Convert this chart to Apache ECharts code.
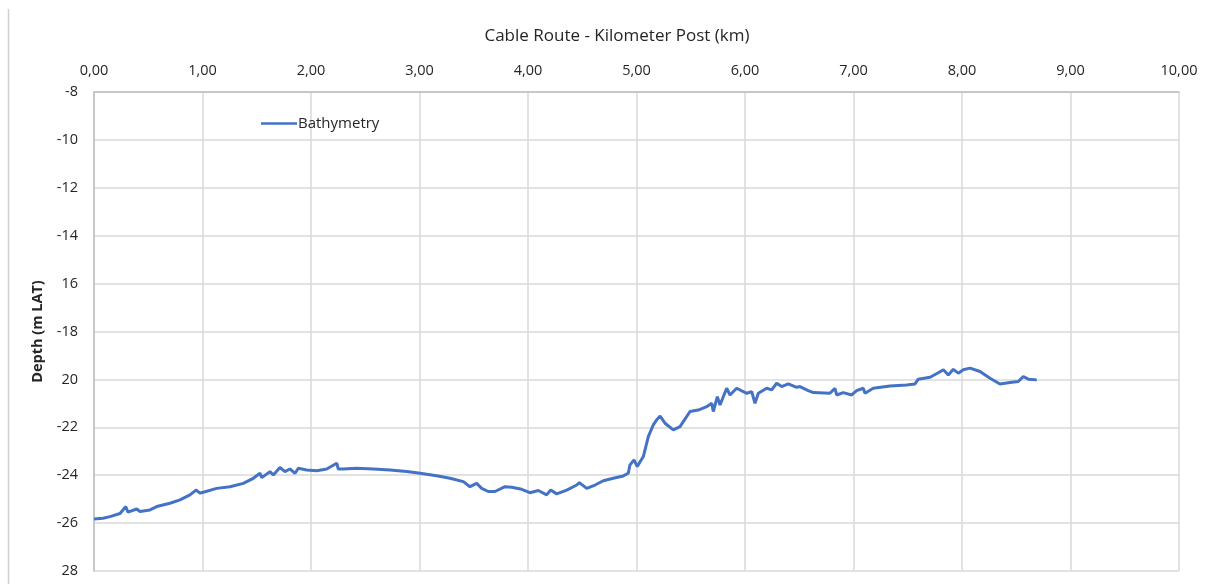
<!DOCTYPE html>
<html>
<head>
<meta charset="utf-8">
<script src="https://cdn.jsdelivr.net/npm/echarts@6/dist/echarts.min.js"></script>
<style>
  html, body { margin: 0; padding: 0; background: #fff; }
  #chart { width: 1213px; height: 584px; }
</style>
</head>
<body>
<div id="chart"></div>
<script>
// Kilometer post along the cable route (km)
const kp = [
  0.000, 0.083, 0.147, 0.240, 0.292, 0.313, 0.394, 0.424, 0.516, 0.578,
  0.700, 0.793, 0.885, 0.940, 0.977, 1.007, 1.131, 1.253, 1.376, 1.468,
  1.530, 1.546, 1.622, 1.653, 1.714, 1.760, 1.806, 1.853, 1.883, 1.960,
  2.053, 2.145, 2.237, 2.252, 2.298, 2.421, 2.574, 2.728, 2.882, 3.005,
  3.158, 3.281, 3.404, 3.465, 3.527, 3.573, 3.634, 3.696, 3.788, 3.850,
  3.942, 4.018, 4.095, 4.172, 4.209, 4.264, 4.357, 4.449, 4.473, 4.541,
  4.618, 4.694, 4.786, 4.878, 4.924, 4.940, 4.977, 5.007, 5.063, 5.109,
  5.155, 5.186, 5.217, 5.263, 5.339, 5.401, 5.493, 5.569, 5.647, 5.693,
  5.708, 5.745, 5.770, 5.831, 5.862, 5.923, 6.016, 6.062, 6.092, 6.123,
  6.200, 6.246, 6.292, 6.338, 6.399, 6.415, 6.476, 6.507, 6.583, 6.630,
  6.783, 6.829, 6.845, 6.906, 6.983, 7.029, 7.090, 7.106, 7.182, 7.336,
  7.490, 7.567, 7.597, 7.705, 7.782, 7.828, 7.874, 7.920, 7.966, 8.012,
  8.074, 8.166, 8.258, 8.350, 8.442, 8.519, 8.565, 8.611, 8.689
];

// Seabed depth (m LAT)
const depth = [
  -25.83, -25.80, -25.73, -25.60, -25.31, -25.54, -25.41, -25.52, -25.45, -25.31,
  -25.17, -25.03, -24.82, -24.62, -24.75, -24.71, -24.55, -24.48, -24.34, -24.13,
  -23.92, -24.10, -23.85, -23.99, -23.68, -23.85, -23.74, -23.92, -23.71, -23.78,
  -23.81, -23.74, -23.50, -23.74, -23.74, -23.71, -23.74, -23.78, -23.85, -23.92,
  -24.02, -24.13, -24.27, -24.48, -24.34, -24.55, -24.68, -24.68, -24.48, -24.50,
  -24.59, -24.73, -24.64, -24.82, -24.62, -24.78, -24.62, -24.41, -24.31, -24.55,
  -24.41, -24.23, -24.13, -24.03, -23.92, -23.57, -23.36, -23.64, -23.22, -22.39,
  -21.90, -21.69, -21.53, -21.83, -22.11, -21.97, -21.34, -21.28, -21.14, -21.00,
  -21.34, -20.72, -21.07, -20.37, -20.65, -20.37, -20.58, -20.51, -21.00, -20.58,
  -20.37, -20.44, -20.16, -20.30, -20.19, -20.23, -20.33, -20.30, -20.47, -20.55,
  -20.58, -20.37, -20.65, -20.55, -20.65, -20.47, -20.37, -20.58, -20.37, -20.28,
  -20.23, -20.19, -19.99, -19.91, -19.72, -19.60, -19.82, -19.58, -19.74, -19.60,
  -19.53, -19.67, -19.95, -20.19, -20.13, -20.09, -19.88, -19.99, -20.02
];

// Depth axis tick values and the text printed beside them
const depthTicks = [-8, -10, -12, -14, -16, -18, -20, -22, -24, -26, -28];
const depthTickLabels = ['-8', '-10', '-12', '-14', '16', '-18', '20', '-22', '-24', '-26', '28'];

const seriesName = 'Bathymetry';
const xAxisTitle = 'Cable Route - Kilometer Post (km)';
const yAxisTitle = 'Depth (m LAT)';

const FONT = '"Open Sans", "Noto Sans", sans-serif';
const points = kp.map((k, i) => [k, depth[i]]);

const chart = echarts.init(document.getElementById('chart'), null, { renderer: 'canvas' });
chart.setOption({
  backgroundColor: '#ffffff',
  animation: false,
  textStyle: { fontFamily: FONT },
  title: {
    text: xAxisTitle,
    left: 612, top: 23, textAlign: 'center',
    textStyle: { fontFamily: FONT, fontSize: 17, fontWeight: 'normal', color: '#262626' }
  },
  legend: {
    left: 256, top: 111,
    itemWidth: 36, itemHeight: 16, itemGap: 10,
    data: [{ name: seriesName, icon: 'path://M0,0 L36,0 L36,2.5 L0,2.5 Z' }],
    textStyle: { fontFamily: FONT, fontSize: 15, color: '#262626', padding: [0, 0, 0, -4] }
  },
  grid: { left: 94, right: 34, top: 92, bottom: 13, containLabel: false },
  xAxis: {
    type: 'value', position: 'top',
    min: 0, max: 10, interval: 1,
    axisLine: { show: true, lineStyle: { color: '#bfbfbf', width: 1.5 } },
    axisTick: { show: false },
    axisLabel: {
      margin: 14, fontFamily: FONT, fontSize: 14.5, color: '#262626',
      formatter: v => v.toFixed(2).replace('.', ',')
    },
    splitLine: { show: true, lineStyle: { color: '#d9d9d9', width: 1.5 } }
  },
  yAxis: {
    type: 'value',
    min: -28, max: -8, interval: 2,
    name: yAxisTitle, nameLocation: 'middle', nameGap: 44, nameRotate: 90,
    nameTextStyle: { fontFamily: FONT, fontSize: 14.5, fontWeight: 'bold', color: '#262626' },
    axisLine: { show: true, onZero: false, lineStyle: { color: '#bfbfbf', width: 1.5 } },
    axisTick: { show: false },
    axisLabel: {
      margin: 16, fontFamily: FONT, fontSize: 14.5, color: '#262626',
      formatter: v => {
        const i = depthTicks.indexOf(v);
        return i >= 0 ? depthTickLabels[i] : String(v);
      }
    },
    splitLine: { show: true, lineStyle: { color: '#d9d9d9', width: 1.5 } }
  },
  graphic: [{
    type: 'line', silent: true,
    shape: { x1: 8.5, y1: 9, x2: 8.5, y2: 584 },
    style: { stroke: '#d0d0d0', lineWidth: 1.5 }
  }],
  series: [{
    name: seriesName,
    type: 'line',
    data: points,
    showSymbol: false,
    symbol: 'none',
    lineStyle: { color: '#4472c4', width: 3 },
    itemStyle: { color: '#4472c4' }
  }]
});
</script>
</body>
</html>
